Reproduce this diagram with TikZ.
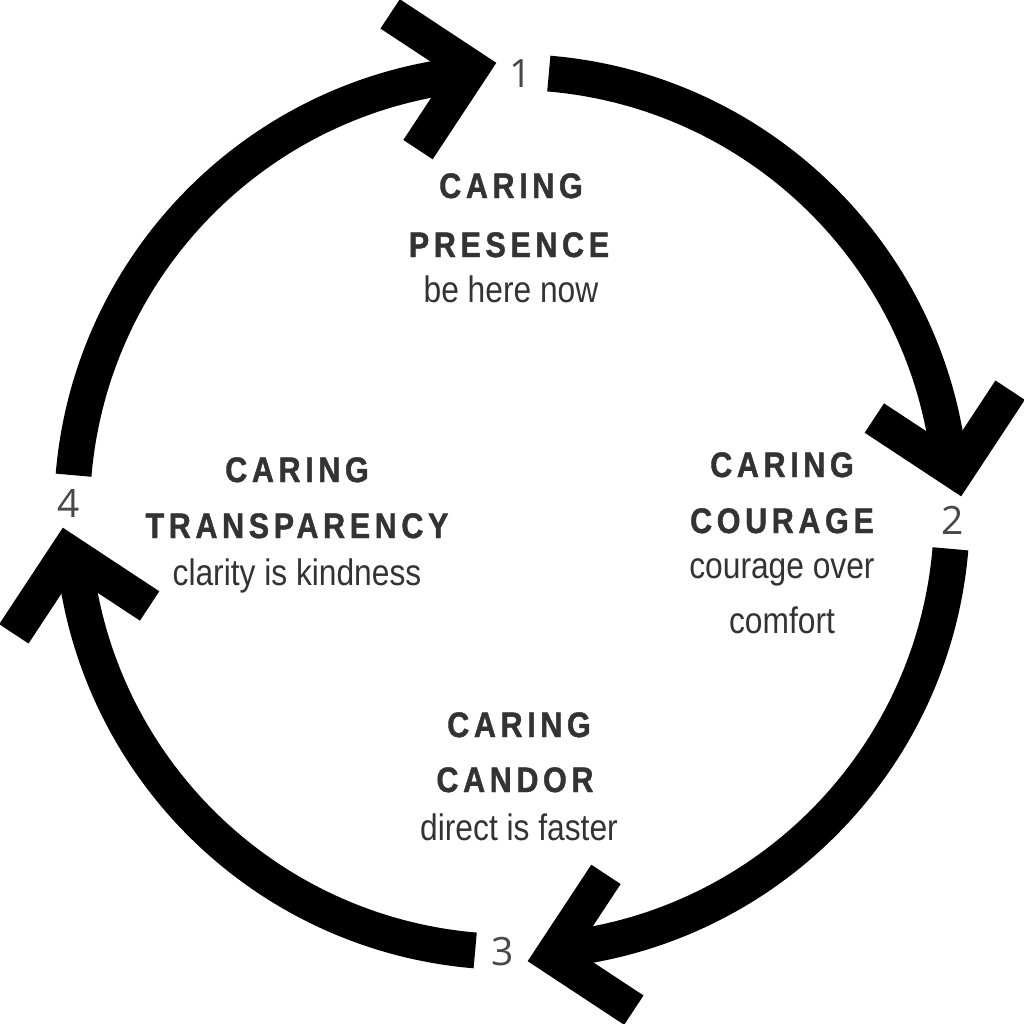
\documentclass[tikz,border=0pt]{standalone}
\usepackage{fontspec}
\setmainfont{Liberation Sans}
\newfontfamily\headfont[FakeStretch=0.86,LetterSpace=13,FakeBold=1.2]{Liberation Sans}
\newfontfamily\subfont[FakeStretch=0.86]{Liberation Sans}
\newfontfamily\numfont{Open Sans}
\usepackage{tikz}
\usetikzlibrary{calc}
\definecolor{inkgray}{RGB}{51,51,51}
\definecolor{numgray}{RGB}{72,72,72}

\begin{document}
\begin{tikzpicture}[
  ring/.style={line width=10.2pt, black, line cap=butt},
  chev/.style={line width=10pt, black, line join=miter, miter limit=10, line cap=butt},
  head/.style={anchor=base, inner sep=0pt, text=inkgray, font=\headfont\bfseries\fontsize{10.1}{12}\selectfont},
  sub/.style={anchor=base, inner sep=0pt, text=inkgray, font=\subfont\fontsize{10.5}{12.6}\selectfont},
  num/.style={anchor=base, inner sep=0pt, text=numgray, font=\numfont\fontsize{11.1}{13}\selectfont}
]
  \useasboundingbox (-5.12,-5.12) rectangle (5.12,5.12);
  \def\R{4.40}
  % four arcs, each ending in a chevron
  \foreach \k in {0,1,2,3}{
    \begin{scope}[rotate=-90*\k]
      \draw[ring] (85.2:\R) arc[start angle=85.2, end angle=5.5, radius=\R];
      \coordinate (head\k) at (5.15:4.46);
      \draw[chev] ($(head\k)+(56.6:0.98)$) -- (head\k) -- ($(head\k)+(146.6:0.98)$);
    \end{scope}
  }
  % step numbers
  \node[num] (n1) at (0.09,4.25) {1};
  \node[num] (n2) at (4.41,-0.22) {2};
  \node[num] (n3) at (-0.09,-4.53) {3};
  \node[num] (n4) at (-4.43,-0.05) {4};
  % presence
  \node[head] (presA) at (-0.01,3.14) {CARING};
  \node[head] (presB) at (-0.03,2.55) {PRESENCE};
  \node[sub] (presC) at (-0.01,2.10) {be here now};
  % courage
  \node[head] (courA) at (2.70,0.35) {CARING};
  \node[head] (courB) at (2.70,-0.21) {COURAGE};
  \node[sub] (courC) at (2.70,-0.66) {courage over};
  \node[sub] (courD) at (2.70,-1.21) {comfort};
  % candor
  \node[head] (candA) at (0.07,-2.25) {CARING};
  \node[head] (candB) at (0.03,-2.80) {CANDOR};
  \node[sub] (candC) at (0.07,-3.28) {direct is faster};
  % transparency
  \node[head] (tranA) at (-2.15,0.30) {CARING};
  \node[head] (tranB) at (-2.15,-0.26) {TRANSPARENCY};
  \node[sub] (tranC) at (-2.15,-0.73) {clarity is kindness};
\end{tikzpicture}
\end{document}
